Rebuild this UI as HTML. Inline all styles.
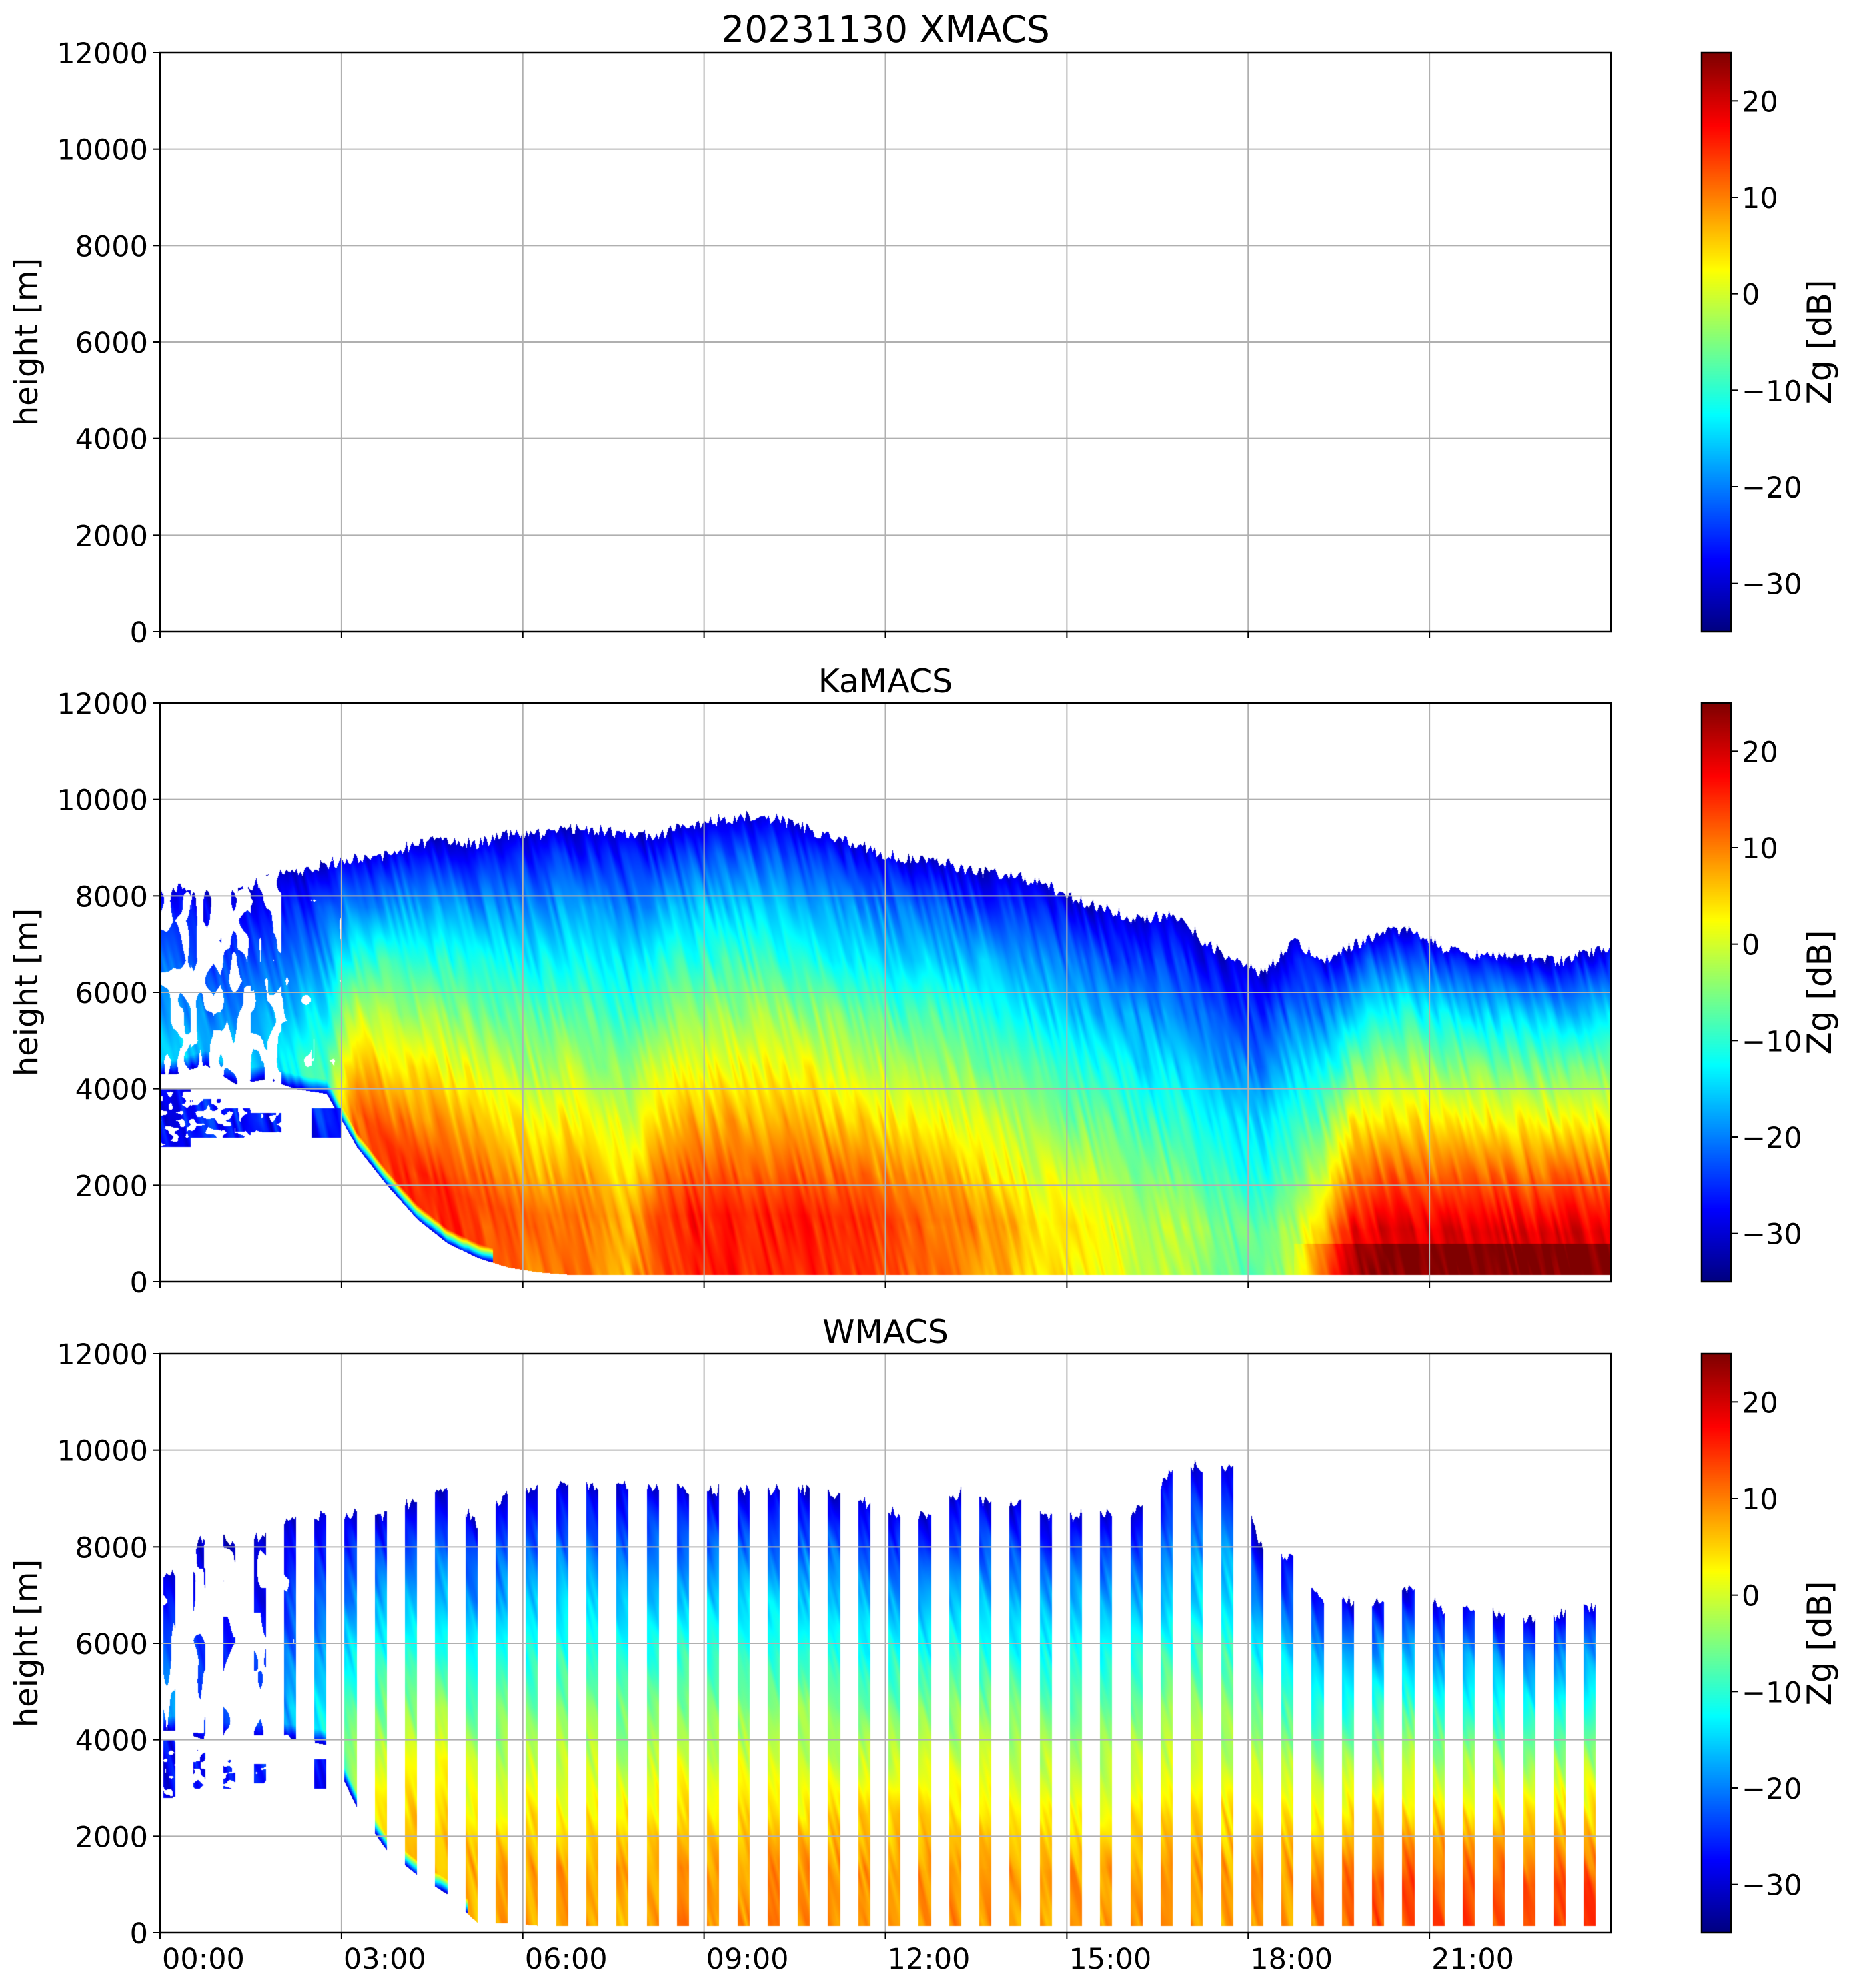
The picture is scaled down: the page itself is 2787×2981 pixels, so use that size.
<!DOCTYPE html>
<html><head><meta charset="utf-8"><style>
html,body{margin:0;padding:0;background:#fff;}
#wrap{position:relative;width:2787px;height:2981px;overflow:hidden;font-family:"DejaVu Sans","Liberation Sans",sans-serif;}
canvas{position:absolute;left:0;top:0;}
svg{position:absolute;left:0;top:0;}
</style></head><body>
<div id="wrap">
<canvas id="cv" width="2787" height="2981"></canvas>
<svg id="sv" width="2787" height="2981" xmlns="http://www.w3.org/2000/svg"></svg>
</div>
<script>
// ---- data (half-hour columns, hours 0..23.5) ----
const hours = [0,0.5,1,1.5,2,2.5,3,3.5,4,4.5,5,5.5,6,6.5,7,7.5,8,8.5,9,9.5,10,10.5,11,11.5,12,12.5,13,13.5,14,14.5,15,15.5,16,16.5,17,17.5,18,18.5,19,19.5,20,20.5,21,21.5,22,22.5,23,23.5];
const kaTop = [8.3,8.4,8.2,8.5,8.6,8.8,8.9,9.0,9.2,9.3,9.2,9.4,9.4,9.5,9.5,9.4,9.4,9.6,9.7,9.8,9.7,9.5,9.3,9.1,8.9,8.9,8.7,8.6,8.5,8.3,8.0,7.8,7.6,7.8,7.2,6.8,6.5,7.2,6.8,7.1,7.4,7.4,7.0,6.9,6.9,6.8,6.8,7.0];
const kaBase = [4.3,4.5,4.1,4.2,4.0,3.9,2.8,2.0,1.3,0.8,0.5,0.3,0.2,0.15,0.15,0.15,0.15,0.15,0.15,0.15,0.15,0.15,0.15,0.15,0.15,0.15,0.15,0.15,0.15,0.15,0.15,0.15,0.15,0.15,0.15,0.15,0.15,0.15,0.15,0.15,0.15,0.15,0.15,0.15,0.15,0.15,0.15,0.15];
const kaMax = [-14,-18,-15,-15,-12,-8,12,14,15,15,14,12,10,12,10,7,14,16,16,16,16,16,15,14,12,12,10,8,6,4,3,1,-1,-2,-4,-6,-7,-2,6,18,19,19,19,19,19,19,19,19];
const kaSurf = [0,0,0,0,0,0,0,0,0,0,0,0,0,0,0,0,0,0,0,0,0,0,0,0,0,0,0,0,0,0,0,0,0,0,0,0,0,0,10,22,25,25,25,25,25,25,25,25];
const kaCover = [0.55,0.45,0.5,0.6,0.8,0.9,1,1,1,1,1,1,1,1,1,1,1,1,1,1,1,1,1,1,1,1,1,1,1,1,1,1,1,1,1,1,1,1,1,1,1,1,1,1,1,1,1,1];
const lowTop = [4.0,3.8,3.6,3.5,0,3.6,0,0,0,0,0,0,0,0,0,0,0,0,0,0,0,0,0,0,0,0,0,0,0,0,0,0,0,0,0,0,0,0,0,0,0,0,0,0,0,0,0,0];
const lowBase = [2.8,3.0,3.0,3.1,0,3.0,0,0,0,0,0,0,0,0,0,0,0,0,0,0,0,0,0,0,0,0,0,0,0,0,0,0,0,0,0,0,0,0,0,0,0,0,0,0,0,0,0,0];
const wTop = [7.6,8.4,8.2,8.4,8.7,8.8,8.8,8.8,9.1,9.3,8.6,9.2,9.3,9.4,9.4,9.4,9.4,9.3,9.3,9.3,9.3,9.3,9.2,9.0,8.8,8.8,9.3,9.0,9.0,8.7,8.8,8.8,8.9,9.8,9.8,9.8,8.0,7.9,7.0,7.0,7.0,7.3,6.8,6.9,6.7,6.6,6.8,6.9];
const wBase = [4.2,4.0,4.1,4.1,4.0,3.9,2.6,1.7,1.2,0.8,0.2,0.2,0.15,0.15,0.15,0.15,0.15,0.15,0.15,0.15,0.15,0.15,0.15,0.15,0.15,0.15,0.15,0.15,0.15,0.15,0.15,0.15,0.15,0.15,0.15,0.15,0.15,0.15,0.15,0.15,0.15,0.15,0.15,0.15,0.15,0.15,0.15,0.15];
const wMax = [-18,-24,-24,-22,-16,-12,-2,4,6,7,7,8,8,8,8,7,8,9,9,9,9,9,9,9,9,9,9,9,8,8,8,8,8,8,8,8,9,9,10,12,13,13,13,13,13,13,13,13];
const wCover = [0.6,0.4,0.45,0.55,0.75,0.9,1,1,1,1,1,1,1,1,1,1,1,1,1,1,1,1,1,1,1,1,1,1,1,1,1,1,1,1,1,1,1,1,1,1,1,1,1,1,1,1,1,1];
const yTicks = [0,2000,4000,6000,8000,10000,12000];
const xTickHours = [0,3,6,9,12,15,18,21];
const xTickLabels = ["00:00","03:00","06:00","09:00","12:00","15:00","18:00","21:00"];
const cbTicks = [-30,-20,-10,0,10,20];
const panelTitles = ["20231130 XMACS","KaMACS","WMACS"];

// ---- layout ----
const L=240, R=2415, H=868, tops=[79,1054,2030];
const CBX=2551, CBW=44;
const xs = h => L + (R-L)*h/24;
const ys = (v,t) => t + H - H*v/12000;
const cs = (z,t) => t + H - H*(z+35)/60;

function jet(v){
  const c = x => Math.max(0,Math.min(1,x));
  const r=c(1.5-Math.abs(4*v-3)), g=c(1.5-Math.abs(4*v-2)), b=c(1.5-Math.abs(4*v-1));
  return [r*255|0,g*255|0,b*255|0];
}
function hash(a,b){let n=(a*374761393+b*668265263)|0;n=(n^(n>>>13))*1274126177|0;return ((n^(n>>>16))>>>0)/4294967296;}
function smooth(a,b){
  const a0=Math.floor(a),b0=Math.floor(b),fa=a-a0,fb=b-b0;
  const v00=hash(a0,b0),v10=hash(a0+1,b0),v01=hash(a0,b0+1),v11=hash(a0+1,b0+1);
  return (v00*(1-fa)+v10*fa)*(1-fb)+(v01*(1-fa)+v11*fa)*fb;
}
function lerpArr(arr,hr){
  const f=Math.min(arr.length-1,Math.max(0,hr*2-0.5)); const i=Math.floor(f), fr=f-i;
  const j=Math.min(arr.length-1,i+1); return arr[i]*(1-fr)+arr[j]*fr;
}
const ctx=document.getElementById('cv').getContext('2d');
const img=ctx.createImageData(2787,2981);
const D=img.data;
for(let i=0;i<D.length;i+=4){D[i]=D[i+1]=D[i+2]=255;D[i+3]=255;}
function put(px,py,z){
  const v=Math.max(0,Math.min(1,(z+35)/60)); const col=jet(v);
  const k=(py*2787+px)*4; D[k]=col[0];D[k+1]=col[1];D[k+2]=col[2];
}
function drawPanel(t, top, base, mx, surf, cover, strip){
  for(let px=L;px<R;px++){
    const hr=(px-L)/(R-L)*24;
    const i=Math.min(hours.length-1,Math.floor(hr*2));
    if(strip){ const f=hr*2-i; if(f<0.09||f>0.49) continue; }
    const tp=lerpArr(top,hr)*1000, bs=lerpArr(base,hr)*1000, zm=lerpArr(mx,hr), sf=surf?lerpArr(surf,hr):0;
    const cv=cover[i];
    const lt=lowTop[i]*1000, lb=lowBase[i]*1000;
    const topJ=tp - 250*smooth(px/3,7);
    for(let py=t;py<t+H;py++){
      const hv=(t+H-py)/H*12000;
      const tex=smooth(px/6 + (t+H-py)/25, py/80)-0.5;
      if(lt>0 && hv<=lt && hv>=lb){
        if(smooth(px/8,py/6)<cv+0.1) put(px,py,-27+10*tex);
        continue;
      }
      if(hv>topJ||hv<bs) continue;
      if(cv<1 && smooth(px/10,py/30)>cv) continue;
      const fr=(tp-hv)/Math.max(1,(tp-bs));
      let z=-32+(zm+32)*Math.pow(Math.min(1,fr*1.15),0.75);
      if(bs>400){ const d=(hv-bs)/300; if(d<1) z=z-(1-d)*(z+30); }
      if(sf>0 && hv<800) z=Math.max(z,sf);
      z+=tex*6;
      put(px,py,z);
    }
  }
}
drawPanel(tops[1],kaTop,kaBase,kaMax,kaSurf,kaCover,false);
drawPanel(tops[2],wTop,wBase,wMax,null,wCover,true);
for(let p=0;p<3;p++){
  for(let py=tops[p];py<tops[p]+H;py++){
    const z=(tops[p]+H-py)/H*60-35;
    for(let px=CBX;px<CBX+CBW;px++) put(px,py,z);
  }
}
ctx.putImageData(img,0,0);

// ---- svg axes ----
const NS="http://www.w3.org/2000/svg", sv=document.getElementById('sv');
function el(tag,attrs,txt){const e=document.createElementNS(NS,tag);for(const k in attrs)e.setAttribute(k,attrs[k]);if(txt!==undefined)e.textContent=txt;sv.appendChild(e);return e;}
for(let p=0;p<3;p++){
  const t=tops[p];
  const g=el('g',{});
  
  
  yTicks.forEach(v=>{
    const y=ys(v,t);
    const gl=el('line',{x1:L,x2:R,y1:y,y2:y,stroke:'#b0b0b0','stroke-width':2});
    
    
    el('line',{x1:L-10,x2:L,y1:y,y2:y,stroke:'#000','stroke-width':2});
    const tx=el('text',{x:L-18,y:y+16,'text-anchor':'end','font-size':43},String(v));
    
    
  });
  xTickHours.forEach((h,j)=>{
    const x=xs(h);
    const gl=el('line',{x1:x,x2:x,y1:t,y2:t+H,stroke:'#b0b0b0','stroke-width':2});
    
    
    el('line',{x1:x,x2:x,y1:t+H,y2:t+H+10,stroke:'#000','stroke-width':2});
    if(p===2){
      const tx=el('text',{x:x+3,y:2952,'text-anchor':'start','font-size':43},xTickLabels[j]);
      
      
    }
  });
  el('rect',{x:L,y:t,width:R-L,height:H,fill:'none',stroke:'#000','stroke-width':2.5});
  const tt=el('text',{x:(L+R)/2,y:t-16,'text-anchor':'middle','font-size':p===0?55:49},panelTitles[p]);
  
  
  const yl=el('text',{x:0,y:0,'text-anchor':'middle','font-size':48,transform:`translate(56,${t+H/2}) rotate(-90)`},'height [m]');
  
  
  el('rect',{x:CBX,y:t,width:CBW,height:H,fill:'none',stroke:'#000','stroke-width':2.5});
  cbTicks.forEach(z=>{
    const y=cs(z,t);
    el('line',{x1:CBX+CBW,x2:CBX+CBW+10,y1:y,y2:y,stroke:'#000','stroke-width':2});
    const tx=el('text',{x:CBX+CBW+16,y:y+16,'font-size':43},z<0?'\u2212'+Math.abs(z):String(z));
    
    
  });
  const cl=el('text',{x:0,y:0,'text-anchor':'middle','font-size':50,transform:`translate(2745,${t+H/2}) rotate(-90)`},'Zg [dB]');
  
  
}
</script>
</body></html>
